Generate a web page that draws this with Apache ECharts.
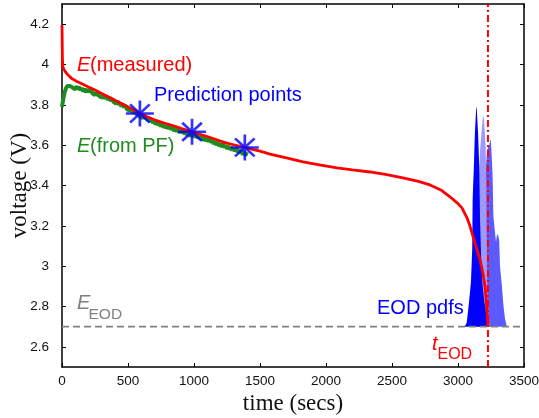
<!DOCTYPE html>
<html><head><meta charset="utf-8">
<script src="https://cdn.jsdelivr.net/npm/echarts@6/dist/echarts.min.js"></script>
<style>html,body{margin:0;padding:0;background:#fff}#c{width:539px;height:418px}</style>
</head><body><div id="c"></div>
<script>
// ---- data ----
const xTicks = [0,500,1000,1500,2000,2500,3000,3500];
const yTicks = [2.6,2.8,3,3.2,3.4,3.6,3.8,4,4.2];
const tMeasured = [0,1,2,3,5,8,15,25,45,75,110,150,200,250,300,350,400,450,500,550,600,650,700,750,800,850,900,950,1000,1050,1100,1150,1200,1250,1300,1350,1400,1450,1500,1576,1700,1826,1950,2083,2200,2333,2450,2583,2700,2788,2870,2939,3000,3030,3068,3090,3114,3140,3167,3190,3205,3215,3227];
const vMeasured = [4.195,4.15,4.09,4.04,4.00,3.985,3.975,3.965,3.948,3.93,3.917,3.905,3.889,3.873,3.856,3.84,3.823,3.807,3.789,3.772,3.755,3.740,3.726,3.714,3.705,3.695,3.683,3.673,3.663,3.653,3.643,3.632,3.620,3.610,3.602,3.594,3.587,3.578,3.57,3.556,3.537,3.517,3.502,3.487,3.477,3.467,3.455,3.438,3.42,3.403,3.378,3.344,3.31,3.289,3.24,3.20,3.146,3.09,3.032,2.96,2.898,2.82,2.70];
const pfStart = 0, pfStep = 10;
const vPF = [3.79,3.83,3.862,3.882,3.894,3.90,3.893,3.898,3.886,3.889,3.876,
 3.892,3.878,3.889,3.872,3.884,3.866,3.88,3.862,3.877,3.866,
 3.858,3.874,3.858,3.867,3.848,3.864,3.85,3.858,3.84,3.849,
 3.836,3.85,3.83,3.842,3.824,3.838,3.818,3.831,3.815,3.822,
 3.806,3.819,3.8,3.81,3.792,3.805,3.786,3.799,3.78,3.789,
 3.771,3.783,3.764,3.775,3.755,3.769,3.748,3.761,3.741,3.75,
 3.735,3.749,3.73,3.741,3.722,3.736,3.716,3.728,3.71,3.72,
 3.702,3.718,3.698,3.709,3.692,3.705,3.688,3.699,3.684,3.696,
 3.68,3.696,3.676,3.688,3.67,3.684,3.666,3.678,3.661,3.673,
 3.66,3.674,3.654,3.666,3.649,3.662,3.643,3.657,3.64,3.651,
 3.639,3.654,3.634,3.646,3.628,3.642,3.623,3.637,3.62,3.631,
 3.617,3.632,3.612,3.624,3.606,3.62,3.6,3.614,3.596,3.606,
 3.592,3.608,3.588,3.6,3.582,3.596,3.578,3.591,3.574,3.586,
 3.57,3.586,3.566,3.578,3.56,3.574,3.552,3.569,3.548,3.566];
const tPredict = [590,985,1385];
const vPredict = [3.757,3.666,3.589];
const eodLevel = 2.7;
const tEOD = 3227;
// EOD pdfs (time, plotted height in volts above baseline)
const pdfWideT = [3180,3205,3212,3222,3235,3248,3255,3262,3268,3278,3288,3296,3305,3312,3318,3330,3345,3356,3370];
const pdfWideV = [2.70,3.30,3.50,3.58,3.60,3.63,3.55,3.45,3.25,3.18,3.12,3.16,3.15,3.13,3.00,2.92,2.80,2.74,2.70];
const pdfMidT = [3135,3148,3158,3168,3172,3180,3187,3192,3197,3203,3210,3214,3218,3224,3235,3245];
const pdfMidV = [2.70,3.20,3.45,3.58,3.61,3.68,3.73,3.75,3.73,3.66,3.58,3.40,3.10,2.85,2.72,2.70];
const pdfNarrowT = [3050,3066,3080,3098,3108,3111,3120,3128,3138,3142,3152,3161,3167,3175,3184,3200,3217,3230,3240];
const pdfNarrowV = [2.70,2.72,2.80,2.92,3.09,3.33,3.49,3.66,3.79,3.78,3.66,3.49,3.23,3.05,2.92,2.82,2.76,2.71,2.70];

const zip = (a,b) => a.map((v,i)=>[v,b[i]]);
const pfData = vPF.map((v,i)=>[pfStart+i*pfStep, v]);
const pdfs = [zip(pdfWideT,pdfWideV), zip(pdfMidT,pdfMidV), zip(pdfNarrowT,pdfNarrowV)];
const pdfColors = ['#5a5aff','#9b9bff','#0000ff'];

const SANS = 'Liberation Sans', SERIF = 'Liberation Serif';
const GREEN = '#1e8c1e';
const chart = echarts.init(document.getElementById('c'));
const fmtY = v => String(Math.round(v*10)/10);
const baseX = {type:'value', min:0, max:3500, interval:500,
  axisLine:{show:true,onZero:false,lineStyle:{color:'#000',width:1.5}},
  axisTick:{show:true,inside:true,length:4,lineStyle:{color:'#000',width:1}},
  splitLine:{show:false}};
const baseY = {type:'value', min:2.5, max:4.3,
  axisLine:{show:true,onZero:false,lineStyle:{color:'#000',width:1.5}},
  axisTick:{show:true,inside:true,length:4,customValues:yTicks,lineStyle:{color:'#000',width:1}},
  splitLine:{show:false}};

function txt(text, x, y, color, size, italic, family){
  return {type:'text', z:100, style:{text:text, x:x, y:y, fill:color,
    font:(italic?'italic ':'')+size+'px "'+(family||SANS)+'"', textVerticalAlign:'middle', textAlign:'left'}};
}

chart.setOption({
  animation:false,
  grid:{left:62,right:15,top:4,bottom:51,containLabel:false,outerBoundsMode:'none'},
  xAxis:[
    Object.assign({}, baseX, {position:'bottom',
      axisLabel:{show:true,formatter:v=>String(v),fontFamily:SANS,fontSize:13.5,color:'#111',margin:7},
      name:'time (secs)', nameLocation:'middle', nameGap:25, nameMoveOverlap:false,
      nameTextStyle:{fontFamily:SERIF,fontSize:23,color:'#111'}}),
    Object.assign({}, baseX, {position:'top', axisLabel:{show:false}})
  ],
  yAxis:[
    Object.assign({}, baseY, {position:'left',
      axisLabel:{show:true,customValues:yTicks,formatter:fmtY,fontFamily:SANS,fontSize:13.5,color:'#111',margin:13},
      name:'voltage (V)', nameLocation:'middle', nameGap:31, nameMoveOverlap:false,
      nameTextStyle:{fontFamily:SERIF,fontSize:23,color:'#111'}}),
    Object.assign({}, baseY, {position:'right', axisLabel:{show:false}})
  ],
  series:[
    {type:'custom', name:'pdfs', z:1, silent:true,
     data: pdfs.map((p,i)=>[p[0][0], p[0][1], i]),
     renderItem:(params, api)=>{
       const i = params.dataIndex;
       const pts = pdfs[i].map(p=>api.coord(p));
       return {type:'polygon', shape:{points:pts}, style:{fill:pdfColors[i]}};
     }},
    {type:'line', name:'E_EOD', z:2, data:[[0,eodLevel],[3500,eodLevel]], symbol:'none',
     lineStyle:{color:'#808080',width:1.6,type:[7,4]}},
    {type:'line', name:'E (from PF)', z:3, data:pfData, symbol:'none',
     lineStyle:{color:GREEN,width:4}},
    {type:'line', name:'E (measured)', z:4, data:zip(tMeasured,vMeasured), symbol:'none', smooth:false,
     lineStyle:{color:'#ff0000',width:2.8}},
    {type:'line', name:'t_EOD', z:5, data:[[tEOD,2.5],[tEOD,4.3]], symbol:'none',
     lineStyle:{color:'#ff0000',width:2,type:[7,3,2,3]}},
    {type:'scatter', name:'Prediction points', z:6, data:zip(tPredict,vPredict),
     symbol:'path://M0,-10L0,10M-10,0L10,0M-7,-7L7,7M-7,7L7,-7', symbolSize:[28,26],
     itemStyle:{color:'none',borderColor:'#0000ff',borderWidth:2.6}}
  ],
  graphic:[
    txt('E',77,65,'#ff0000',20,true), txt('(measured)',90,65,'#ff0000',20,false),
    txt('Prediction points',154,95,'#0000ff',20,false),
    txt('E',77,146,GREEN,20,true), txt('(from PF)',90,146,GREEN,20,false),
    txt('E',77,303.5,'#808080',20,true), txt('EOD',88.5,314.5,'#808080',15.5,false),
    txt('EOD pdfs',377,308,'#0000ff',20,false),
    txt('t',432,344,'#ff0000',20,true), txt('EOD',437.5,354.5,'#ff0000',16,false)
  ]
});
</script></body></html>
